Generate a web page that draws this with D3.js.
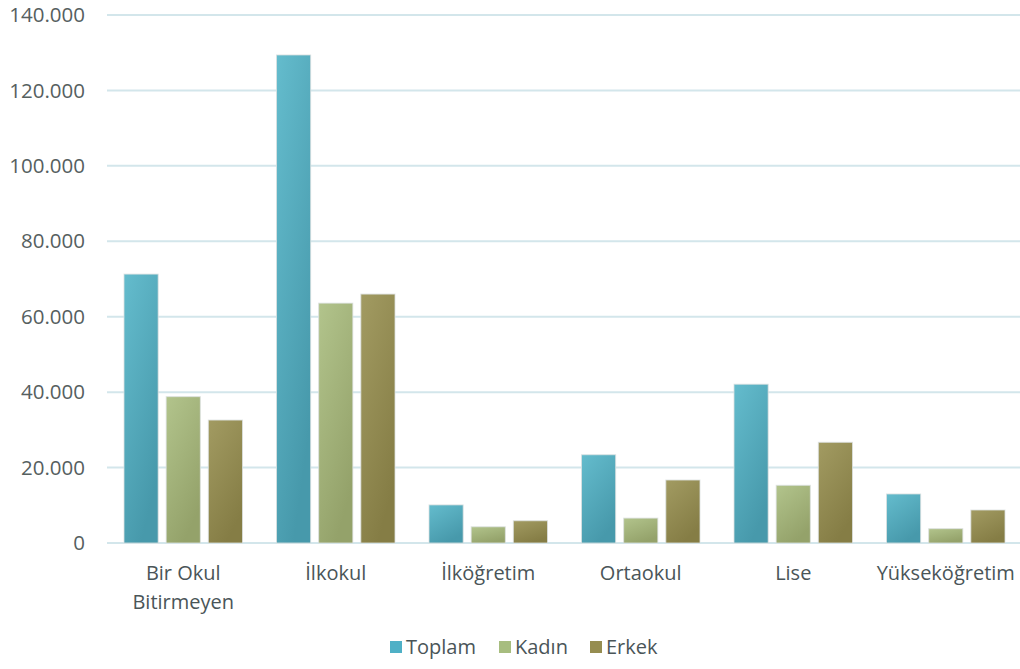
<!DOCTYPE html>
<html>
<head>
<meta charset="utf-8">
<script src="https://cdn.jsdelivr.net/npm/d3@7"></script>
<style>
  body { margin: 0; background: #fff; }
  text { font-family: "Open Sans", sans-serif; }
</style>
</head>
<body>
<svg id="chart" width="1020" height="669"></svg>
<script>
// === Data ===
const categories = ['Bir Okul Bitirmeyen', 'İlkokul', 'İlköğretim', 'Ortaokul', 'Lise', 'Yükseköğretim'];
const seriesNames = ['Toplam', 'Kadın', 'Erkek'];
const toplam = [71300, 129400, 10100, 23400, 42100, 13000];
const kadin  = [38800, 63600, 4300, 6600, 15300, 3800];
const erkek  = [32600, 66000, 5900, 16700, 26700, 8750];
const yTicks = [0, 20000, 40000, 60000, 80000, 100000, 120000, 140000];

const series = [toplam, kadin, erkek];
const colors = [
    ['#64bccd', '#4799ab'],
    ['#b2c48c', '#94a26a'],
    ['#a29b62', '#857d45']
];
const legendColors = ['#4fb0c6', '#a7bd7f', '#968d50'];

const svg = d3.select('#chart');
const margin = { left: 107, right: -2, top: 15, bottom: 126 };
const width = 1020 - margin.left - margin.right;
const height = 669 - margin.top - margin.bottom;

// Gradients
const defs = svg.append('defs');
colors.forEach((c, i) => {
    const g = defs.append('linearGradient')
        .attr('id', 'grad' + i)
        .attr('x1', '0%').attr('y1', '0%')
        .attr('x2', '50%').attr('y2', '100%');
    g.append('stop').attr('offset', '0%').attr('stop-color', c[0]);
    g.append('stop').attr('offset', '100%').attr('stop-color', c[1]);
});

const g = svg.append('g').attr('transform', `translate(${margin.left},${margin.top})`);

const x0 = d3.scaleBand().domain(categories).range([0, width]).paddingInner(0).paddingOuter(0);
const x1 = d3.scaleBand().domain(seriesNames).range([17, x0.bandwidth() - 17]).paddingInner(0.19).paddingOuter(0);
const y = d3.scaleLinear().domain([0, 140000]).range([height, 0]);

// === Gridlines ===
g.selectAll('.grid')
    .data(yTicks)
    .enter()
    .append('line')
    .attr('x1', 0)
    .attr('x2', width)
    .attr('y1', d => y(d))
    .attr('y2', d => y(d))
    .attr('stroke', '#d3e6eb')
    .attr('stroke-width', 2);

// === Y axis labels ===
const fmt = d3.formatLocale({ decimal: ',', thousands: '.', grouping: [3], currency: ['', ''] }).format(',');
g.selectAll('.ylab')
    .data(yTicks)
    .enter()
    .append('text')
    .attr('x', -22)
    .attr('y', d => y(d))
    .attr('dy', '0.35em')
    .attr('text-anchor', 'end')
    .attr('font-size', '20.5px')
    .attr('fill', '#56605f')
    .text(d => fmt(d));

// === Bars ===
categories.forEach((cat, ci) => {
    seriesNames.forEach((s, si) => {
        const v = series[si][ci];
        g.append('rect')
            .attr('x', x0(cat) + x1(s))
            .attr('y', y(v))
            .attr('width', x1.bandwidth())
            .attr('height', height - y(v))
            .attr('fill', `url(#grad${si})`)
            .attr('stroke', 'rgba(220,225,225,0.8)')
            .attr('stroke-width', 1);
    });
});

// === X axis labels ===
const xLabels = g.selectAll('.xlab')
    .data(categories)
    .enter()
    .append('text')
    .attr('x', d => x0(d) + x0.bandwidth() / 2)
    .attr('y', height + 37)
    .attr('text-anchor', 'middle')
    .attr('font-size', '20px')
    .attr('fill', '#4a5558');

xLabels.each(function(d) {
    const lines = d === 'Bir Okul Bitirmeyen' ? ['Bir Okul', 'Bitirmeyen'] : [d];
    const t = d3.select(this);
    lines.forEach((l, i) => {
        t.append('tspan')
            .attr('x', x0(d) + x0.bandwidth() / 2)
            .attr('dy', i === 0 ? 0 : 29)
            .text(l);
    });
});

// === Legend ===
const legendX = [390, 499, 590];
const legend = svg.append('g');
seriesNames.forEach((s, i) => {
    legend.append('rect')
        .attr('x', legendX[i])
        .attr('y', 641)
        .attr('width', 12)
        .attr('height', 12)
        .attr('fill', legendColors[i]);
    legend.append('text')
        .attr('x', legendX[i] + 16)
        .attr('y', 647)
        .attr('dy', '0.35em')
        .attr('font-size', '20px')
        .attr('fill', '#4a5558')
        .text(s);
});
</script>
</body>
</html>
